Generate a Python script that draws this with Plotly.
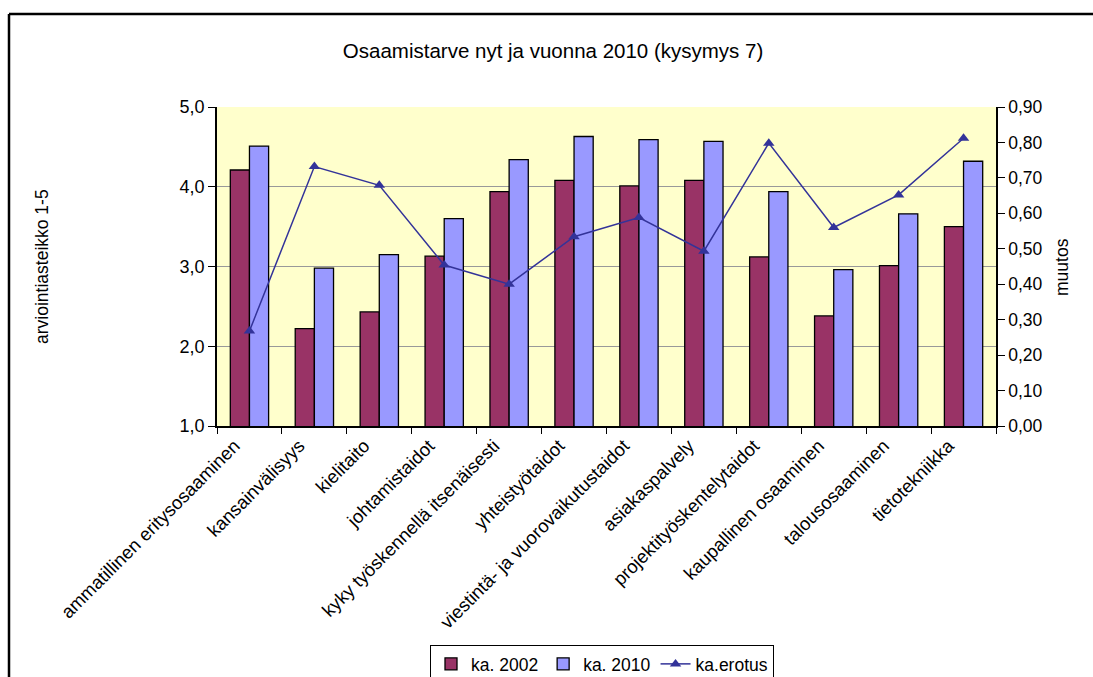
import plotly.graph_objects as go

categories = [
    "ammatillinen eritysosaaminen",
    "kansainvälisyys",
    "kielitaito",
    "johtamistaidot",
    "kyky työskennellä itsenäisesti",
    "yhteistyötaidot",
    "viestintä- ja vuorovaikutustaidot",
    "asiakaspalvely",
    "projektityöskentelytaidot",
    "kaupallinen osaaminen",
    "talousosaaminen",
    "tietotekniikka",
]
ka_2002 = [4.21, 2.22, 2.43, 3.13, 3.94, 4.08, 4.01, 4.08, 3.12, 2.38, 3.01, 3.50]
ka_2010 = [4.51, 2.98, 3.15, 3.60, 4.34, 4.63, 4.59, 4.57, 3.94, 2.96, 3.66, 4.32]
ka_erotus = [0.268, 0.732, 0.679, 0.454, 0.40, 0.534, 0.588, 0.493, 0.798, 0.560, 0.652, 0.812]

W, H = 1093, 677
L, R, T, B = 217, 97, 107, 251
FONT = "Liberation Sans, Arial, sans-serif"


def px_x(x):
    return (x - L) / (W - L - R)


def px_y(y):
    return (H - B - y) / (H - T - B)


fig = go.Figure()
fig.add_trace(go.Bar(
    x=categories, y=ka_2002, name="ka. 2002",
    marker=dict(color="#993366", line=dict(color="black", width=1.3)),
))
fig.add_trace(go.Bar(
    x=categories, y=ka_2010, name="ka. 2010",
    marker=dict(color="#9999FF", line=dict(color="black", width=1.3)),
))
fig.add_trace(go.Scatter(
    x=categories, y=ka_erotus, name="ka.erotus", yaxis="y2",
    mode="lines+markers",
    line=dict(color="#333399", width=1.5),
    marker=dict(symbol="triangle-up", size=10, color="#333399"),
))

fig.update_layout(
    width=W, height=H,
    margin=dict(l=L, r=R, t=T, b=B, autoexpand=False),
    paper_bgcolor="white",
    plot_bgcolor="#FFFFCC",
    separators=", ",
    font=dict(family=FONT, size=18, color="black"),
    barmode="group", bargap=0.41, bargroupgap=0,
    title=dict(text="Osaamistarve nyt ja vuonna 2010 (kysymys 7)",
               x=0.506, xanchor="center", y=1 - 51 / H, yanchor="middle",
               font=dict(size=20.5)),
    xaxis=dict(type="category", range=[-0.5, len(categories) - 0.5],
               tickangle=-45, tickson="boundaries",
               ticks="outside", ticklen=6, tickcolor="black",
               tickfont=dict(size=18.5), ticklabelstandoff=0, ticklabelshift=-15,
               showline=True, linecolor="black", linewidth=1.5,
               showgrid=False, automargin=False),
    yaxis=dict(range=[1, 5], dtick=1, tickformat=".1f",
               ticks="outside", ticklen=7, tickcolor="black",
               showline=True, linecolor="black", linewidth=1.5,
               showgrid=True, gridcolor="#999999", gridwidth=1,
               zeroline=False, automargin=False),
    yaxis2=dict(range=[0, 0.9], dtick=0.1, tickformat=".2f", overlaying="y",
                side="right", ticks="outside", ticklen=7, tickcolor="black",
                tickfont=dict(size=17.5),
                showline=True, linecolor="black", linewidth=1.5,
                showgrid=False, zeroline=False, automargin=False),
    legend=dict(orientation="h", x=px_x(602), xanchor="center",
                y=px_y(645), yanchor="top",
                bordercolor="black", borderwidth=1, bgcolor="white",
                font=dict(size=17.5), itemwidth=30, tracegroupgap=0),
    annotations=[
        dict(text="arviointiasteikko 1-5", textangle=-90, showarrow=False,
             xref="paper", yref="paper", x=px_x(42), y=px_y(267),
             xanchor="center", yanchor="middle", font=dict(size=17.5)),
        dict(text="muutos", textangle=-90, showarrow=False,
             xref="paper", yref="paper", x=px_x(1062), y=px_y(267),
             xanchor="center", yanchor="middle", font=dict(size=17.5)),
    ],
    shapes=[
        dict(type="line", xref="paper", yref="paper",
             x0=px_x(9), x1=px_x(W + 5), y0=px_y(14), y1=px_y(14),
             line=dict(color="black", width=2.5)),
        dict(type="line", xref="paper", yref="paper",
             x0=px_x(9), x1=px_x(9), y0=px_y(14), y1=px_y(H + 5),
             line=dict(color="black", width=2.5)),
    ],
)

# drop the browser's default 8px page margin so the figure sits at (0, 0)
fig.write_html("out.html", config={"displayModeBar": False},
               post_script="document.body.style.margin='0px';")
